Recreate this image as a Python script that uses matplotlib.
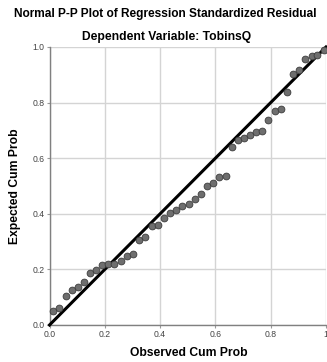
import matplotlib
matplotlib.use("Agg")
import matplotlib.pyplot as plt

observed = [0.014, 0.035, 0.058, 0.080, 0.102, 0.123, 0.146, 0.168, 0.191, 0.212,
            0.235, 0.258, 0.280, 0.303, 0.324, 0.347, 0.370, 0.392, 0.414, 0.436,
            0.459, 0.481, 0.504, 0.525, 0.547, 0.570, 0.591, 0.614, 0.637, 0.659,
            0.682, 0.703, 0.726, 0.748, 0.770, 0.792, 0.814, 0.837, 0.858, 0.880,
            0.903, 0.925, 0.948, 0.969, 0.991]
expected = [0.050, 0.062, 0.103, 0.126, 0.138, 0.153, 0.186, 0.198, 0.217, 0.218,
            0.219, 0.230, 0.247, 0.254, 0.305, 0.315, 0.356, 0.359, 0.384, 0.404,
            0.414, 0.427, 0.435, 0.454, 0.470, 0.500, 0.509, 0.532, 0.536, 0.639,
            0.667, 0.674, 0.682, 0.695, 0.698, 0.736, 0.770, 0.776, 0.838, 0.903,
            0.916, 0.958, 0.969, 0.972, 0.989]
ticks = [0.0, 0.2, 0.4, 0.6, 0.8, 1.0]
xtick_labels = ["0.0", "0.2", "0.4", "0.6", "0.8", "1"]
ytick_labels = ["0.0", "0.2", "0.4", "0.6", "0.8", "1.0"]
title = "Normal P-P Plot of Regression Standardized Residual"
subtitle = "Dependent Variable: TobinsQ"

plt.rcParams['font.family'] = ['Liberation Sans', 'DejaVu Sans']

fig = plt.figure(figsize=(3.27, 3.62), dpi=100)
ax = fig.add_axes([49.5/327, 37/362, 276.5/327, 278/362])

ax.set_xlim(0, 1)
ax.set_ylim(0, 1)
ax.set_xticks(ticks)
ax.set_yticks(ticks)
ax.set_xticklabels(xtick_labels, fontsize=6.2, color='#444444')
ax.set_yticklabels(ytick_labels, fontsize=6.2, color='#444444')
ax.tick_params(length=2, width=0.8, color='#9a9a9a', pad=1.5)
ax.grid(True, color='#d4d4d4', linewidth=1.0)
ax.set_axisbelow(True)
for s in ['top', 'right']:
    ax.spines[s].set_visible(False)
for s in ['left', 'bottom']:
    ax.spines[s].set_color('#808080')
    ax.spines[s].set_linewidth(1.0)

ax.plot([0, 1], [0, 1], color='black', linewidth=2.2, zorder=3, clip_on=False)
ax.scatter(observed, expected, s=24, facecolor='#6e6e6e', edgecolor='#3c3c3c',
           linewidth=0.6, zorder=4, clip_on=False)

ax.set_ylabel("Expected Cum Prob", fontsize=8.7, fontweight='bold', labelpad=8)
fig.text(189/327, 1 - 353/362, "Observed Cum Prob", ha='center', va='center',
         fontsize=8.7, fontweight='bold')
fig.text(165/327, 1 - 14/362, title, ha='center', va='center', fontsize=8.6, fontweight='bold')
fig.text(167/327, 1 - 37/362, subtitle, ha='center', va='center', fontsize=8.7, fontweight='bold')

fig.savefig("out.png", dpi=100)
